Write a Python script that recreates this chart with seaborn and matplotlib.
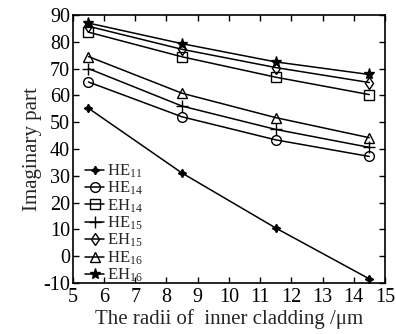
import matplotlib
matplotlib.use("Agg")
import matplotlib.pyplot as plt
import seaborn as sns
import pandas as pd

radii = [5.5, 8.5, 11.5, 14.5]
HE11 = [55.2, 31.0, 10.5, -8.5]
HE14 = [65.0, 52.0, 43.4, 37.2]
EH14 = [83.6, 74.4, 66.8, 60.3]
HE15 = [70.0, 56.0, 47.3, 40.6]
EH15 = [85.8, 77.2, 70.4, 64.8]
HE16 = [74.5, 60.8, 51.7, 44.2]
EH16 = [87.0, 79.3, 72.5, 67.8]

labels = ["HE$_{11}$", "HE$_{14}$", "EH$_{14}$", "HE$_{15}$", "EH$_{15}$", "HE$_{16}$", "EH$_{16}$"]
series = [HE11, HE14, EH14, HE15, EH15, HE16, EH16]
markers = [(4, 1, 0), "o", "s", "+", "d", "^", "*"]
filled = [True, False, False, False, False, False, True]
msizes = [6, 7, 7, 8, 6, 7, 8]

sns.set_style("ticks")
plt.rcParams["font.family"] = ["Liberation Serif", "DejaVu Serif"]
plt.rcParams["mathtext.fontset"] = "custom"
plt.rcParams["mathtext.rm"] = "Liberation Serif"
plt.rcParams["mathtext.it"] = "Liberation Serif"
plt.rcParams["axes.unicode_minus"] = False
plt.rcParams["xtick.direction"] = "in"
plt.rcParams["ytick.direction"] = "in"

fig = plt.figure(figsize=(3.96, 3.34), dpi=100)
ax = fig.add_axes([0.184, 0.153, 0.788, 0.802])

for lab, vals, m, f, ms in zip(labels, series, markers, filled, msizes):
    df = pd.DataFrame({"r": radii, "v": vals})
    sns.lineplot(data=df, x="r", y="v", ax=ax, color="black", lw=1.1,
                 marker=m, markersize=ms, markeredgewidth=1.0,
                 markerfacecolor="black" if f else "none",
                 markeredgecolor="black", label=lab)

ax.set_xlim(5, 15)
ax.set_ylim(-10, 90)
ax.set_xticks(range(5, 16))
ax.set_yticks(range(-10, 91, 10))
ax.tick_params(axis="both", which="both", direction="in", top=True, right=True,
               labelsize=14.5, length=4, width=1, colors="black")
ax.tick_params(axis="x", pad=4)
ax.tick_params(axis="y", pad=2)
for s in ax.spines.values():
    s.set_linewidth(1.2)
    s.set_color("black")
ax.set_xlabel("The radii of  inner cladding /μm", fontsize=15, labelpad=1)
ax.set_ylabel("Imaginary part", fontsize=15, labelpad=1)

leg = ax.legend(loc="upper left", bbox_to_anchor=(0.04, 0.45), frameon=False,
                fontsize=12, labelspacing=0.0, handlelength=1.1,
                handletextpad=0.2, borderpad=0, borderaxespad=0)

fig.savefig("out.png", dpi=100)
